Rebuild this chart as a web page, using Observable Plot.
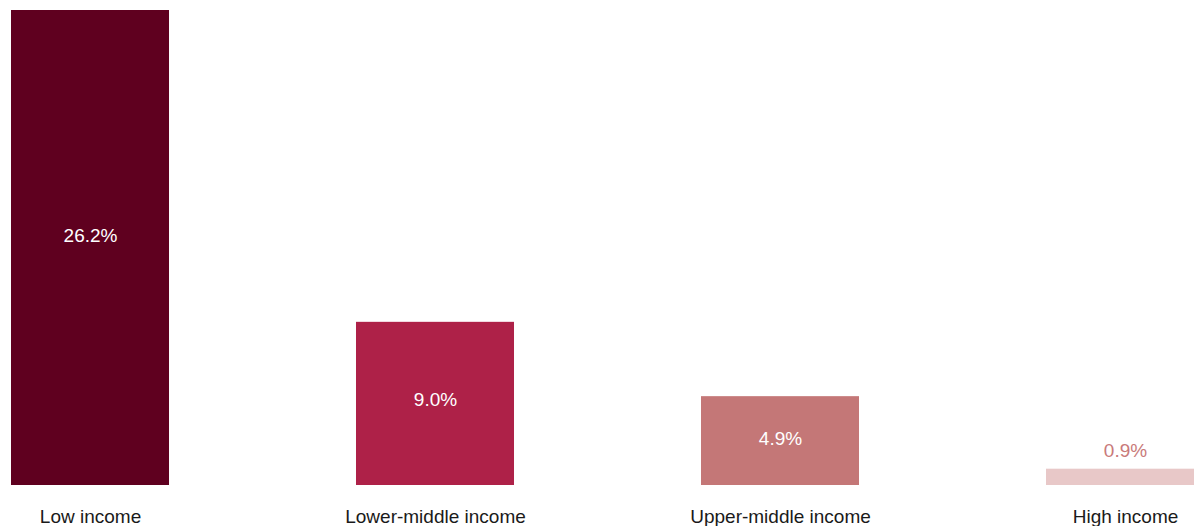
<!DOCTYPE html>
<html>
<head>
<meta charset="utf-8">
<script src="https://cdn.jsdelivr.net/npm/d3@7"></script>
<script src="https://cdn.jsdelivr.net/npm/@observablehq/plot@0.6"></script>
<style>
  html, body { margin: 0; padding: 0; background: #fff; overflow: hidden; }
  #chart svg { overflow: visible; }
</style>
</head>
<body>
<div id="chart"></div>
<script>
const categories = ["Low income", "Lower-middle income", "Upper-middle income", "High income"];
const values = [26.2, 9.0, 4.9, 0.9];
const colors = ["#5f001f", "#ae2148", "#c47777", "#e8c8c8"];

const data = categories.map((c, i) => ({category: c, value: values[i]}));
const fmt = d => d.value.toFixed(1) + "%";

const chart = Plot.plot({
  width: 1194,
  height: 526,
  marginTop: 10,
  marginBottom: 41,
  marginLeft: 0,
  marginRight: 0,
  style: {fontFamily: "'Liberation Sans', Arial, Helvetica, sans-serif", fontSize: "19px", color: "#1a1a1a", background: "#fff"},
  x: {domain: categories, range: [11, 1204], paddingInner: 0.542, paddingOuter: 0, round: false, label: null},
  y: {domain: [0, 26.2], range: [485, 10], axis: null},
  color: {domain: categories, range: colors},
  marks: [
    Plot.barY(data, {x: "category", y: "value", fill: "category"}),
    Plot.text(data.filter(d => d.value >= 2), {
      x: "category", y: d => d.value * 0.525, text: fmt,
      fill: "#ffffff", fontSize: 19
    }),
    Plot.text(data.filter(d => d.value < 2), {
      x: "category", y: "value", dy: -18, text: fmt,
      fill: "#c97a7a", fontSize: 19
    }),
    Plot.axisX({tickSize: 0, tickPadding: 24, fontSize: 19, label: null, fill: "#1a1a1a"})
  ]
});
document.getElementById("chart").appendChild(chart);
</script>
</body>
</html>
